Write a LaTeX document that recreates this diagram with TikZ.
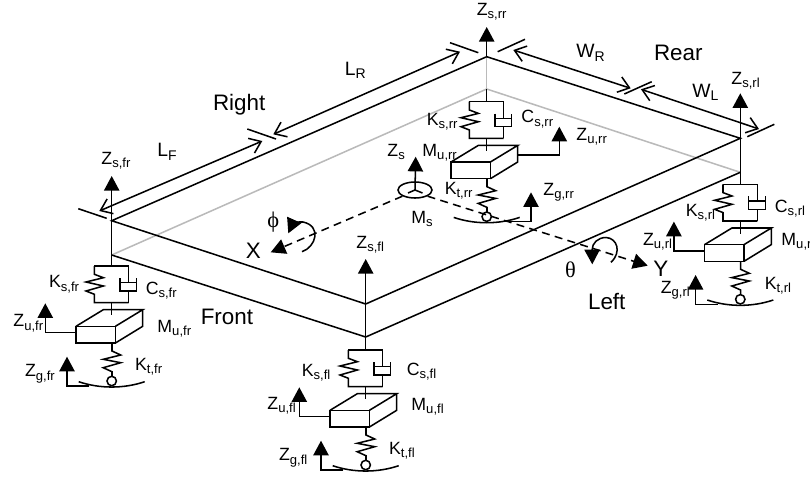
\documentclass[tikz,border=0pt]{standalone}
\usepackage{fontspec}
\setmainfont{Liberation Sans}
\newfontfamily\symfont{Liberation Serif}
\usetikzlibrary{arrows.meta,shapes.geometric}

\newcommand{\sublab}[2]{#1\raisebox{-2.6pt}{\fontsize{9.8}{11}\selectfont #2}}
\newcommand{\bigsublab}[2]{#1\raisebox{-2.6pt}{\fontsize{10.5}{12}\selectfont #2}}

% spring, damper, mass and tyre below one corner, origin on the axis at the box top
\newcommand{\suspension}[3]{%
  \begin{scope}[shift={(#2,#3)}]
    \coordinate (#1top) at (0,0);
    \draw (-17.3,0) -- (17,0) (0,36.7) -- (0,49.3);
    \draw (-17.3,0) -- (-17.3,8.3) -- (-8.3,11.7) -- (-25.7,16) -- (-8.3,20) -- (-25.7,25) -- (-17.3,28.3) -- (-17.3,36.7) -- (17,36.7);
    \draw (17,0) -- (17,16.7) (8.3,16.7) -- (25,16.7) (17,25) -- (17,36.7);
    \draw (8.3,12) -- (8.3,25) -- (25,25) -- (25,12);
    \draw (-35.7,60.3) rectangle (3.7,77);
    \draw (-35.7,60.3) -- (-8.4,43.7) -- (31,43.7) -- (3.7,60.3) (31,43.7) -- (31,60.3) -- (3.7,77);
    \draw (0.3,77) -- (0.3,85) -- (9,89) -- (-8.5,93.3) -- (9,96.7) -- (-8.5,101.7) -- (0.3,105.7) -- (0.3,110.7);
    \draw[fill=white] (0,115) circle (4.7);
    \draw (-33,115.7) .. controls (-12,122.8) and (12,122.8) .. (33,115.7);
  \end{scope}}
% arrows for Zu and Zg when they stand on the left of the axis
\newcommand{\leftzarrows}[2]{%
  \begin{scope}[shift={(#1,#2)}]
    \draw[tri] (-35.7,66.7) -- (-66.4,66.7) -- (-66.4,37.3);
    \draw[tri] (-22.4,120) -- (-44.7,120) -- (-44.7,90.7);
  \end{scope}}

\tikzset{
  tri/.style={-{Triangle[width=11.5pt,length=11pt]}},
  dimline/.style={{Straight Barb[length=8pt,width=12pt]}-{Straight Barb[length=8pt,width=12pt]}},
  hidden/.style={draw=black!27},
  axisline/.style={dash pattern=on 6pt off 4pt},
  lab/.style={anchor=base west,inner sep=0pt,font=\fontsize{13.3}{15}\selectfont},
  dimlab/.style={anchor=base west,inner sep=0pt,font=\fontsize{14.5}{16}\selectfont},
  sidelab/.style={anchor=base west,inner sep=0pt,font=\fontsize{16.8}{18}\selectfont},
}

\begin{document}
\begin{tikzpicture}[x=0.75pt,y=-0.75pt,line width=1.15pt]
  \useasboundingbox (0,0) rectangle (810,476);

  \coordinate (fr) at (111.7,220.7);
  \coordinate (rr) at (486.7,56.7);
  \coordinate (rl) at (740.3,138.3);
  \coordinate (fl) at (365.7,304);
  \coordinate (frlow) at (111.7,255);
  \coordinate (rrlow) at (486.7,89);
  \coordinate (rllow) at (740.3,172.3);
  \coordinate (fllow) at (365.7,337);

  % chassis
  \draw[hidden] (frlow) -- (rrlow) -- (rllow);
  \draw[hidden] (rr) -- (rrlow);
  \draw (fr) -- (rr) -- (rl) -- (fl) -- cycle;
  \draw (frlow) -- (fllow) -- (rllow);

  % corners
  \suspension{fr}{111.7}{266}
  \suspension{fl}{365.7}{350}
  \suspension{rr}{486.7}{101.7}
  \suspension{rl}{740.3}{184.3}
  \leftzarrows{111.7}{266}
  \leftzarrows{365.7}{350}
  \leftzarrows{740.3}{184.3}
  \draw[tri] (518.3,155) -- (559.3,155) -- (559.3,126.7);
  \draw[tri] (503,221.7) -- (531,221.7) -- (531,192.3);

  \draw[tri] (frlow) -- (111.7,176);
  \draw[tri] (fllow) -- (365.7,259);
  \draw[tri] (rllow) -- (740.3,93.3);
  \draw[tri] (rr) -- (486.7,27);
  \draw (frlow) -- (frtop);
  \draw (fllow) -- (fltop);
  \draw (rllow) -- (rltop);
  \draw (rrlow) -- (rrtop);

  % dimension lines
  \draw (78.3,208.7) -- (106.7,218.3);
  \draw (247.3,129) -- (276,139);
  \draw (450,42.7) -- (478.3,52.7);
  \draw (497.7,51.7) -- (525,39.3);
  \draw (624.3,94) -- (651.7,81.7);
  \draw (747.3,136.7) -- (774.3,124.3);
  \draw[dimline] (99.3,211) -- (262.3,141);
  \draw[dimline] (273.3,134.3) -- (460,51.7);
  \draw[dimline] (513.3,50) -- (630.7,88.3);
  \draw[dimline] (641,89.3) -- (759,129);

  % centre of gravity
  \coordinate (cg) at (415,190);
  \node[draw,ellipse,minimum width=25.5pt,minimum height=12pt,inner sep=0pt] (ms) at (cg) {};
  \draw[tri] (cg) -- (415.7,156.7);
  \draw (408,193) -- (cg) -- (422.5,193);
  \draw[tri,axisline] (ms.south west) -- (270.7,252.3);
  \draw[tri,axisline] (ms.south east) -- (647.7,265.7);
  \draw[tri] (302,251.7) .. controls (316,247) and (322,226) .. (303,222) .. controls (298,221) and (292,225) .. (288.3,233.3);
  \draw[tri] (611,262.3) .. controls (622,252) and (617,238) .. (606,237.5) .. controls (598,237.5) and (592,243) .. (592.3,264.3);

  % labels
  \node[sidelab] (right) at (212.3,110) {Right};
  \node[sidelab] (rear) at (653.3,60.7) {Rear};
  \node[sidelab] (front) at (200,324.3) {Front};
  \node[sidelab] (left) at (587.3,309) {Left};
  \node[sidelab] (xaxis) at (245,258.3) {X};
  \node[sidelab] (yaxis) at (652.7,276) {Y};
  \node[sidelab] (rolla) at (266.7,227) {\symfont ϕ};
  \node[sidelab] (pitcha) at (564.3,277.3) {\symfont θ};

  \node[dimlab] (lf) at (156.7,156.7) {\bigsublab{L}{F}};
  \node[dimlab] (lr) at (344,75) {\bigsublab{L}{R}};
  \node[dimlab] (wr) at (575.7,57.7) {\bigsublab{W}{R}};
  \node[dimlab] (wl) at (691.7,97.3) {\bigsublab{W}{L}};

  \node[lab] (zs) at (386.7,156) {\sublab{Z}{s}};
  \node[lab] (ms lab) at (410.7,223.3) {\sublab{M}{s}};

  \node[lab] (zsfr) at (100.7,164) {\sublab{Z}{s,fr}};
  \node[lab] (ksfr) at (48.3,287.7) {\sublab{K}{s,fr}};
  \node[lab] (csfr) at (145,294) {\sublab{C}{s,fr}};
  \node[lab] (zufr) at (12.7,326.7) {\sublab{Z}{u,fr}};
  \node[lab] (mufr) at (156.7,332) {\sublab{M}{u,fr}};
  \node[lab] (ktfr) at (134.3,370) {\sublab{K}{t,fr}};
  \node[lab] (zgfr) at (24.3,376.7) {\sublab{Z}{g,fr}};

  \node[lab] (zsfl) at (355.7,248.3) {\sublab{Z}{s,fl}};
  \node[lab] (ksfl) at (301,376) {\sublab{K}{s,fl}};
  \node[lab] (csfl) at (406,375) {\sublab{C}{s,fl}};
  \node[lab] (zufl) at (266.7,409) {\sublab{Z}{u,fl}};
  \node[lab] (mufl) at (410.7,410) {\sublab{M}{u,fl}};
  \node[lab] (ktfl) at (388.3,454) {\sublab{K}{t,fl}};
  \node[lab] (zgfl) at (278.3,460.7) {\sublab{Z}{g,fl}};

  \node[lab] (zsrr) at (476,15) {\sublab{Z}{s,rr}};
  \node[lab] (ksrr) at (426,125) {\sublab{K}{s,rr}};
  \node[lab] (csrr) at (520.7,122.7) {\sublab{C}{s,rr}};
  \node[lab] (zurr) at (575.7,140) {\sublab{Z}{u,rr}};
  \node[lab] (murr) at (421.7,156) {\sublab{M}{u,rr}};
  \node[lab] (ktrr) at (444,194.3) {\sublab{K}{t,rr}};
  \node[lab] (zgrr) at (542.7,195) {\sublab{Z}{g,rr}};

  \node[lab] (zsrl) at (730.7,84.3) {\sublab{Z}{s,rl}};
  \node[lab] (ksrl) at (685,216) {\sublab{K}{s,rl}};
  \node[lab] (csrl) at (774,212.3) {\sublab{C}{s,rl}};
  \node[lab] (zurl) at (642.3,245) {\sublab{Z}{u,rl}};
  \node[lab] (murl) at (780.7,245) {\sublab{M}{u,r}};
  \node[lab] (ktrl) at (764,289) {\sublab{K}{t,rl}};
  \node[lab] (zgrl) at (660,293.3) {\sublab{Z}{g,rl}};
\end{tikzpicture}
\end{document}
